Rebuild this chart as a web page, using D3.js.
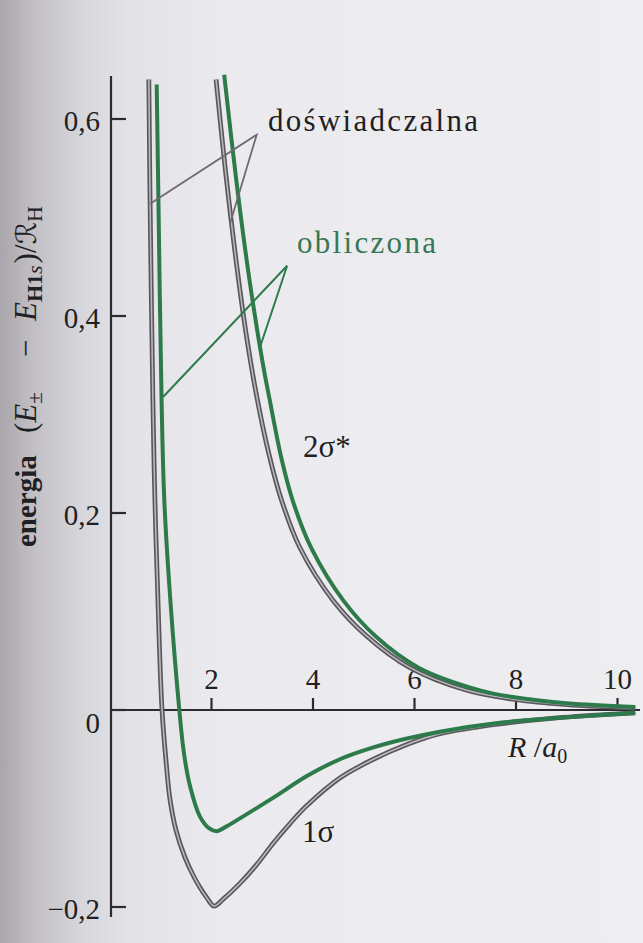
<!DOCTYPE html>
<html>
<head>
<meta charset="utf-8">
<script src="https://cdn.jsdelivr.net/npm/d3@7"></script>
<style>
  html, body { margin: 0; padding: 0; background: #ececf0; }
  svg { display: block; }
</style>
</head>
<body>
<svg id="chart" width="643" height="943"></svg>
<script>
// ---- data (R in a0, E in Rydberg units) ----
const xTicks = [2, 4, 6, 8, 10];
const yTicks = [-0.2, 0, 0.2, 0.4, 0.6];
const yTickLabels = ["\u22120,2", "0", "0,2", "0,4", "0,6"];

// experimental (doświadczalna) 1σ
const expR1 = [0.765, 0.79, 0.845, 0.885, 0.945, 1.025, 1.115, 1.18, 1.30, 1.48, 1.64, 1.77, 1.90, 2.05, 2.23, 2.56, 2.89, 3.22, 3.55, 3.88, 4.53, 5.19, 5.85, 6.50, 7.68, 8.60, 9.66, 10.35];
const expE1 = [0.64, 0.515, 0.315, 0.213, 0.111, 0.0, -0.058, -0.090, -0.122, -0.150, -0.168, -0.180, -0.190, -0.199, -0.192, -0.176, -0.157, -0.135, -0.115, -0.097, -0.069, -0.050, -0.035, -0.024, -0.014, -0.009, -0.005, -0.003];
// calculated (obliczona) 1σ
const calcR1 = [0.92, 0.955, 1.015, 1.07, 1.19, 1.366, 1.46, 1.58, 1.77, 1.95, 2.10, 2.30, 2.56, 3.22, 3.88, 4.53, 5.19, 5.85, 6.50, 7.68, 8.60, 9.66, 10.35];
const calcE1 = [0.635, 0.515, 0.318, 0.213, 0.111, 0.0, -0.045, -0.078, -0.108, -0.120, -0.123, -0.118, -0.110, -0.089, -0.067, -0.050, -0.038, -0.029, -0.022, -0.013, -0.009, -0.005, -0.003];
// experimental 2σ*
const expR2 = [2.09, 2.27, 2.50, 2.70, 2.90, 3.14, 3.38, 3.74, 4.40, 5.06, 5.91, 7.03, 8.0, 9.0, 10.35];
const expE2 = [0.64, 0.550, 0.450, 0.376, 0.316, 0.258, 0.213, 0.165, 0.111, 0.075, 0.043, 0.020, 0.0105, 0.0055, 0.002];
// calculated 2σ*
const calcR2 = [2.25, 2.50, 2.75, 3.00, 3.15, 3.38, 3.61, 3.97, 4.60, 5.25, 6.08, 7.29, 8.0, 9.0, 10.35];
const calcE2 = [0.645, 0.533, 0.436, 0.355, 0.314, 0.255, 0.211, 0.164, 0.111, 0.074, 0.043, 0.020, 0.0127, 0.0068, 0.003];

// leader lines (end on curve, apex, end on curve)
const leadExpR = [0.79, 2.89, 2.36];
const leadExpE = [0.514, 0.584, 0.493];
const leadCalcR = [1.05, 3.49, 2.96];
const leadCalcE = [0.318, 0.451, 0.369];

// ---- drawing ----
const svg = d3.select("#chart");
const W = 643, H = 943;
const serif = "'Liberation Serif', 'Times New Roman', serif";
const green = "#2d7a4b";
const ink = "#1f1f24";

// page background with binding shadow
const defs = svg.append("defs");
const grad = defs.append("linearGradient").attr("id", "page").attr("x1", 0).attr("x2", 1).attr("y1", 0).attr("y2", 0);
[[0, "#a9a5ab"], [0.05, "#c1bec4"], [0.12, "#d6d5da"], [0.2, "#e3e3e7"], [0.35, "#ebebef"], [1, "#eeeef1"]]
  .forEach(([o, c]) => grad.append("stop").attr("offset", o).attr("stop-color", c));
svg.append("rect").attr("width", W).attr("height", H).attr("fill", "url(#page)");

const x = d3.scaleLinear().domain([0, 10]).range([110, 617.5]);
const y = d3.scaleLinear().domain([-0.2, 0.6]).range([907, 119]);

// axes lines
svg.append("line").attr("x1", 111).attr("x2", 111).attr("y1", 76).attr("y2", 917)
  .attr("stroke", "#2c2c30").attr("stroke-width", 2.2);
svg.append("line").attr("x1", 111).attr("x2", 640).attr("y1", y(0)).attr("y2", y(0))
  .attr("stroke", "#2c2c30").attr("stroke-width", 2.2);

// y ticks
yTicks.forEach((v, i) => {
  svg.append("line").attr("x1", 111).attr("x2", 126).attr("y1", y(v)).attr("y2", y(v))
    .attr("stroke", "#2c2c30").attr("stroke-width", 2.2);
  svg.append("text").attr("x", 100).attr("y", y(v) + (v === 0 ? 23 : 12))
    .attr("text-anchor", "end").attr("font-family", serif).attr("font-size", 29)
    .attr("fill", ink).text(yTickLabels[i]);
});
// x ticks
xTicks.forEach(v => {
  svg.append("line").attr("x1", x(v)).attr("x2", x(v)).attr("y1", y(0)).attr("y2", y(0) - 12)
    .attr("stroke", "#2c2c30").attr("stroke-width", 2.2);
  svg.append("text").attr("x", x(v)).attr("y", y(0) - 21)
    .attr("text-anchor", "middle").attr("font-family", serif).attr("font-size", 29)
    .attr("fill", ink).text(v);
});

const line = d3.line().x(d => x(d[0])).y(d => y(d[1])).curve(d3.curveCatmullRom.alpha(0.5));
const zip = (a, b) => a.map((v, i) => [v, b[i]]);

function grayCurve(data) {
  svg.append("path").attr("d", line(data)).attr("fill", "none")
    .attr("stroke", "#59555a").attr("stroke-width", 4.8);
  svg.append("path").attr("d", line(data)).attr("fill", "none")
    .attr("stroke", "#b9b8bc").attr("stroke-width", 1.6);
}
function greenCurve(data) {
  svg.append("path").attr("d", line(data)).attr("fill", "none")
    .attr("stroke", green).attr("stroke-width", 4);
}
grayCurve(zip(expR1, expE1));
grayCurve(zip(expR2, expE2));
greenCurve(zip(calcR1, calcE1));
greenCurve(zip(calcR2, calcE2));

// leader lines
const straight = d3.line().x(d => x(d[0])).y(d => y(d[1]));
svg.append("path").attr("d", straight(zip(leadExpR, leadExpE))).attr("fill", "none")
  .attr("stroke", "#6e6a70").attr("stroke-width", 1.8);
svg.append("path").attr("d", straight(zip(leadCalcR, leadCalcE))).attr("fill", "none")
  .attr("stroke", green).attr("stroke-width", 2);

// annotations
svg.append("text").attr("x", 268).attr("y", 131).attr("font-family", serif).attr("font-size", 31)
  .attr("fill", ink).attr("textLength", 210).attr("lengthAdjust", "spacing").text("doświadczalna");
svg.append("text").attr("x", 297).attr("y", 253).attr("font-family", serif).attr("font-size", 31)
  .attr("fill", "#367853").attr("textLength", 139).attr("lengthAdjust", "spacing").text("obliczona");
svg.append("text").attr("x", 303).attr("y", 457).attr("font-family", serif).attr("font-size", 31)
  .attr("fill", ink).text("2σ*");
svg.append("text").attr("x", 302).attr("y", 842).attr("font-family", serif).attr("font-size", 31)
  .attr("fill", ink).text("1σ");

// x axis title: R /a0
const xt = svg.append("text").attr("x", 508).attr("y", 757).attr("font-family", serif)
  .attr("font-size", 30).attr("fill", ink);
xt.append("tspan").attr("font-style", "italic").text("R");
xt.append("tspan").text(" /");
xt.append("tspan").attr("font-style", "italic").text("a");
xt.append("tspan").attr("font-size", 20).attr("dy", 6).text("0");

// y axis title (rotated; x positions measured along the text from y = 547)
const yt = svg.append("text").attr("transform", "translate(36,547) rotate(-90)")
  .attr("font-family", serif).attr("font-size", 31).attr("fill", ink);
yt.append("tspan").attr("x", 0).attr("font-weight", "bold").attr("font-size", 29).text("energia");
yt.append("tspan").attr("x", 114).text("(");
yt.append("tspan").attr("font-style", "italic").text("E");
yt.append("tspan").attr("font-size", 21).attr("dy", 6).text("±");
yt.append("tspan").attr("x", 190).attr("dy", -6).text("−");
yt.append("tspan").attr("x", 226).attr("font-style", "italic").text("E");
yt.append("tspan").attr("font-size", 22).attr("dy", 6).attr("font-weight", "bold").text("H1");
yt.append("tspan").attr("font-size", 22).attr("font-style", "italic").text("s");
yt.append("tspan").attr("dy", -6).attr("dx", 2).text(")/");
yt.append("tspan").attr("font-family", "'DejaVu Serif', 'DejaVu Sans', serif").attr("font-style", "italic").attr("font-size", 28).text("ℛ");
yt.append("tspan").attr("font-size", 22).attr("dy", 6).text("H");
</script>
</body>
</html>
